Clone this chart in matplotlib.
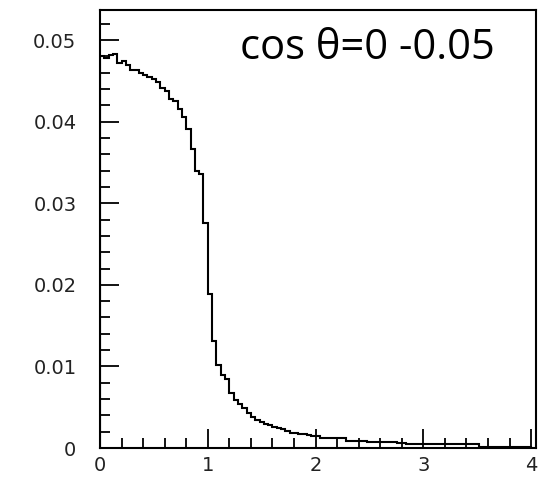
import numpy as np
import matplotlib
matplotlib.use("Agg")
import matplotlib.pyplot as plt
from matplotlib.ticker import MultipleLocator

# histogram contents, 100 bins between 0 and 4
x_lo, x_hi, n_bins = 0.0, 4.0, 100
counts = [
    0.0480, 0.0478, 0.0482, 0.0483, 0.0472, 0.0475, 0.0470, 0.0464, 0.0464, 0.0460,
    0.0457, 0.0455, 0.0452, 0.0449, 0.0441, 0.0438, 0.0428, 0.0425, 0.0416, 0.0406,
    0.0391, 0.0366, 0.0340, 0.0336, 0.0276, 0.0189, 0.0131, 0.0102, 0.0090, 0.0084,
    0.0068, 0.0059, 0.0054, 0.0049, 0.0043, 0.0038, 0.0034, 0.0032, 0.0030, 0.0028,
    0.0026, 0.0025, 0.0023, 0.0021, 0.0019, 0.0019, 0.0017, 0.0017, 0.0016, 0.0015,
    0.0015, 0.0012, 0.0012, 0.0012, 0.0012, 0.0012, 0.0012, 0.0009, 0.0009, 0.0009,
    0.0009, 0.0009, 0.0007, 0.0007, 0.0007, 0.0007, 0.0007, 0.0007, 0.0007, 0.0006,
    0.0006, 0.00045, 0.00045, 0.00045, 0.00045, 0.00045, 0.00045, 0.00045, 0.00045, 0.00045,
    0.00045, 0.00045, 0.00045, 0.00045, 0.00045, 0.00045, 0.00045, 0.00045, 0.00015, 0.00015,
    0.00015, 0.00015, 0.00015, 0.00015, 0.00015, 0.00015, 0.00015, 0.00015, 0.00015, 0.00015,
]
x_ticks = [0, 1, 2, 3, 4]
x_ticklabels = ["0", "1", "2", "3", "4"]
y_ticks = [0, 0.01, 0.02, 0.03, 0.04, 0.05]
y_ticklabels = ["0", "0.01", "0.02", "0.03", "0.04", "0.05"]
label = "cos \u03b8=0 -0.05"

edges = np.linspace(x_lo, x_hi, n_bins + 1)

fig = plt.figure(figsize=(5.49, 4.83), dpi=100)
ax = fig.add_axes([100 / 549, 35 / 483, 436 / 549, 438 / 483])

ax.stairs(counts, edges, color="black", linewidth=1.5, baseline=0)

ax.set_xlim(0, 4.045)
ax.set_ylim(0, 0.0537)

ax.set_xticks(x_ticks)
ax.set_xticklabels(x_ticklabels)
ax.set_yticks(y_ticks)
ax.set_yticklabels(y_ticklabels)
ax.xaxis.set_minor_locator(MultipleLocator(0.2))
ax.yaxis.set_minor_locator(MultipleLocator(0.002))

ax.tick_params(which="both", direction="in", top=False, right=False,
               width=1.3, color="black")
ax.tick_params(which="major", length=14, labelsize=14, labelcolor="#222222")
ax.tick_params(which="minor", length=7)
ax.tick_params(axis="y", which="major", pad=17)
ax.tick_params(axis="x", which="major", pad=6)

for sp in ax.spines.values():
    sp.set_linewidth(1.5)
    sp.set_color("black")

# label in the upper right
ax.text(1.30, 0.0490, label, fontsize=30, family="Open Sans",
        ha="left", va="center", color="black")

fig.savefig("out.png", dpi=100)
